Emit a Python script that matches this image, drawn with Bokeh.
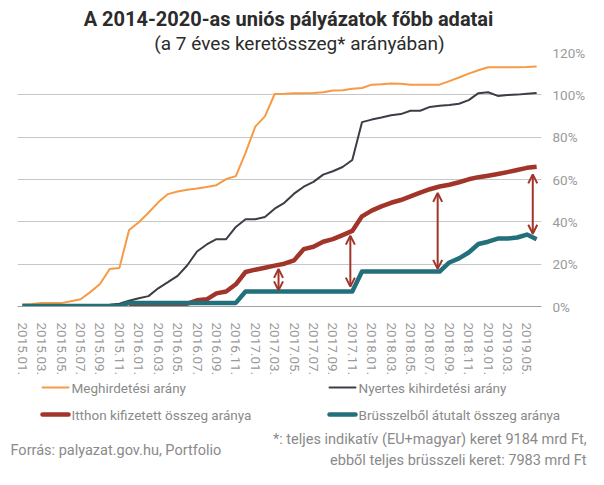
from bokeh.plotting import figure
from bokeh.models import (Range1d, FixedTicker, PrintfTickFormatter, Arrow, OpenHead)
from bokeh.layouts import column
from bokeh.core.properties import value
from bokeh.embed import file_html
from bokeh.resources import INLINE

months = [f"{y}.{m:02d}." for y in range(2015, 2020) for m in range(1, 13)][:54]
idx = list(range(len(months)))

meghirdetesi = [0.9, 1.2, 1.6, 1.6, 1.6, 2.5, 3.4, 6.8, 10.6, 17.7,
                18.2, 36.1, 39.8, 44.3, 49.2, 53.1, 54.3, 55.2, 55.8, 56.5,
                57.3, 60.2, 61.6, 72.6, 85.0, 89.8, 100.4, 100.5, 100.8, 100.8,
                100.9, 101.2, 102.0, 102.2, 102.9, 103.2, 104.8, 105.0, 105.3, 105.2,
                104.8, 104.8, 104.8, 104.8, 106.5, 108.2, 110.0, 111.6, 113.0, 113.0,
                113.0, 113.0, 113.1, 113.4]

nyertes = [0.0, 0.0, 0.0, 0.0, 0.0, 0.1, 0.2, 0.4, 0.6, 0.8,
           1.3, 2.7, 3.9, 4.9, 8.6, 11.5, 14.5, 19.5, 26.0, 29.3,
           31.8, 31.8, 37.6, 41.2, 41.2, 42.3, 46.2, 49.0, 53.3, 56.6,
           58.9, 62.3, 63.9, 65.9, 69.2, 87.1, 88.3, 89.3, 90.4, 90.9,
           92.5, 92.5, 94.3, 94.8, 95.2, 95.8, 97.5, 100.8, 101.2, 99.5,
           99.9, 100.1, 100.5, 100.9]

itthon_idx = idx[11:]
itthon = [0.0, 0.0, 0.0, 0.0, 0.0, 0.3, 1.4, 2.9, 3.4, 6.2,
          7.1, 10.5, 16.3, 17.4, 18.3, 19.3, 20.2, 21.8, 27.1, 28.2,
          30.6, 31.8, 33.7, 35.7, 42.6, 45.3, 47.3, 49.0, 50.3, 52.0,
          53.8, 55.4, 56.7, 57.5, 58.7, 60.1, 61.1, 61.8, 62.6, 63.5,
          64.5, 65.5, 66.0]

brusszel = [0.2, 0.2, 0.2, 0.2, 0.2, 0.2, 0.2, 0.2, 0.2, 0.2,
            0.2, 1.7, 1.7, 1.7, 1.7, 1.7, 1.7, 1.7, 1.7, 1.7,
            1.7, 1.7, 1.7, 7.1, 7.1, 7.1, 7.1, 7.1, 7.1, 7.1,
            7.1, 7.1, 7.1, 7.1, 7.1, 16.5, 16.5, 16.5, 16.5, 16.5,
            16.5, 16.5, 16.5, 16.5, 20.8, 22.7, 25.5, 29.5, 30.6, 32.1,
            32.1, 32.6, 34.0, 31.8]

y_ticks = [0, 20, 40, 60, 80, 100, 120]
x_ticks = idx[::2]

arrow_x = [26.4, 33.8, 42.8, 52.6]
arrow_lo = [7.6, 9.4, 17.8, 34.4]
arrow_hi = [17.8, 33.5, 53.7, 62.4]

series_names = ["Meghirdetési arány", "Nyertes kihirdetési arány",
                "Itthon kifizetett összeg aránya", "Brüsszelből átutalt összeg aránya"]
title_text = "A 2014-2020-as uniós pályázatok főbb adatai"
subtitle_text = "(a 7 éves keretösszeg* arányában)"
source_text = "Forrás: palyazat.gov.hu, Portfolio"
note_lines = ["*: teljes indikatív (EU+magyar) keret 9184 mrd Ft,",
              "ebből teljes brüsszeli keret: 7983 mrd Ft"]

c_orange = "#f79a46"
c_black = "#3b3e46"
c_red = "#a1352a"
c_teal = "#22707b"
FONT = "Roboto"
GRAY = "#9a9a9a"
TXT = "#8a8a8a"
W = 588


def no_align(fig):
    if "frame_align" in fig.properties():
        fig.frame_align = False


def pixel_fig(w, h):
    f = figure(width=w, height=h, x_range=Range1d(0, w), y_range=Range1d(h, 0),
               output_backend="svg", toolbar_location=None, min_border=0,
               x_axis_location=None, y_axis_location=None)
    f.outline_line_color = None
    f.grid.visible = False
    no_align(f)
    return f


# ---- header: transparent, stacked above the chart's top border strip ----
HW, HH = 540, 56
OVERLAP = 13
hdr = pixel_fig(HW, HH)
hdr.border_fill_color = None
hdr.background_fill_color = None
hdr.margin = (0, 0, -OVERLAP, 0)
hdr.styles = {"position": "relative", "z-index": "2"}
hdr.text([288], [18.5], text=[title_text], text_font=value(FONT), text_font_size="20px",
         text_font_style="bold", text_color="#2b2b2b", text_align="center",
         text_baseline="middle")
hdr.text([299], [42.5], text=[subtitle_text], text_font=value(FONT), text_font_size="19px",
         text_color="#2b2b2b", text_align="center", text_baseline="middle")

# ---- main chart ----
p = figure(width=W, height=335, x_range=Range1d(-0.5, 53.5), y_range=Range1d(0, 120),
           output_backend="svg", toolbar_location=None, y_axis_location="right",
           min_border_left=17, min_border_right=40, min_border_top=9, min_border_bottom=70)
no_align(p)
p.outline_line_color = None
p.xgrid.visible = False
p.ygrid.ticker = FixedTicker(ticks=y_ticks)
p.ygrid.grid_line_color = "#c6c6c6"
p.ygrid.grid_line_width = 1

ya = p.yaxis[0]
ya.ticker = FixedTicker(ticks=y_ticks)
ya.formatter = PrintfTickFormatter(format="%d%%")
ya.axis_line_color = None
ya.major_tick_line_color = None
ya.minor_tick_line_color = None
ya.major_label_text_font = FONT
ya.major_label_text_font_size = "13.5px"
ya.major_label_text_color = GRAY
ya.major_label_standoff = 5

xa = p.xaxis[0]
xa.ticker = FixedTicker(ticks=x_ticks)
xa.major_label_overrides = {i: months[i] for i in x_ticks}
xa.major_label_orientation = "vertical"
xa.axis_line_color = "#a0a0a0"
xa.major_tick_line_color = None
xa.minor_tick_line_color = None
xa.major_label_text_font = FONT
xa.major_label_text_font_size = "13.5px"
xa.major_label_text_color = GRAY
xa.major_label_standoff = 10

p.line(idx, meghirdetesi, line_color=c_orange, line_width=2)
p.line(idx, nyertes, line_color=c_black, line_width=2)
p.line(itthon_idx, itthon, line_color=c_red, line_width=4.5, line_join="round")
p.line(idx, brusszel, line_color=c_teal, line_width=4.5, line_join="round")

for ax_, lo, hi in zip(arrow_x, arrow_lo, arrow_hi):
    p.add_layout(Arrow(x_start=ax_, y_start=lo, x_end=ax_, y_end=hi,
                       line_color=c_red, line_width=2,
                       start=OpenHead(size=9, line_color=c_red, line_width=2),
                       end=OpenHead(size=9, line_color=c_red, line_width=2)))

# ---- footer: legend and notes ----
FH = 91
ftr = pixel_fig(W, FH)
leg_x = [42, 329, 42, 329]
leg_y = [9, 9, 36, 36]
leg_w = [2, 2, 4.5, 4.5]
leg_c = [c_orange, c_black, c_red, c_teal]
for lx, ly, lw, lc, name in zip(leg_x, leg_y, leg_w, leg_c, series_names):
    ftr.line([lx, lx + 26], [ly, ly], line_color=lc, line_width=lw, line_cap="round")
    ftr.text([lx + 29], [ly], text=[name], text_font=value(FONT), text_font_size="13.5px",
             text_color=TXT, text_baseline="middle", text_align="left")

ftr.text([10], [72], text=[source_text], text_font=value(FONT), text_font_size="14.5px",
         text_color=TXT, text_baseline="middle", text_align="left")
ftr.text([586, 586], [61, 82], text=note_lines, text_font=value(FONT),
         text_font_size="14.5px", text_color=TXT, text_baseline="middle",
         text_align="right")

layout = column(hdr, p, ftr, spacing=0)
open("out.html", "w").write(file_html(layout, INLINE))
